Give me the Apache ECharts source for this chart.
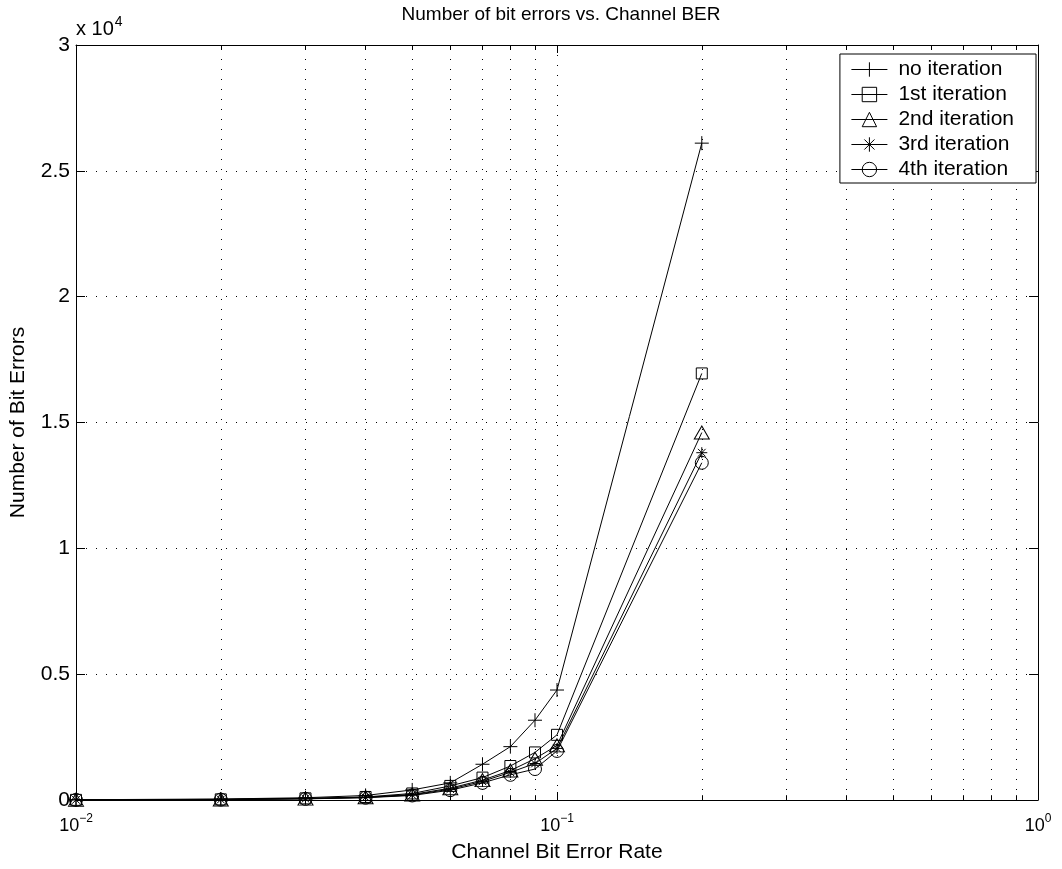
<!DOCTYPE html>
<html>
<head>
<meta charset="utf-8">
<title>Number of bit errors vs. Channel BER</title>
<script src="https://cdn.jsdelivr.net/npm/echarts@6/dist/echarts.min.js"></script>
<style>
  html, body { margin: 0; padding: 0; background: #fff; }
  #chart { width: 1062px; height: 869px; }
</style>
</head>
<body>
<div id="chart"></div>
<script>
// Channel bit error rates that were simulated
const channelBER = [0.01, 0.02, 0.03, 0.04, 0.05, 0.06, 0.07, 0.08, 0.09, 0.1, 0.2];

// Number of bit errors after decoding, one array per iteration count
const noIteration  = [10, 40, 90, 180, 400, 680, 1420, 2120, 3170, 4370, 26100];
const iteration1st = [5, 25, 65, 120, 260, 560, 890, 1350, 1890, 2590, 16950];
const iteration2nd = [5, 20, 55, 110, 220, 470, 790, 1170, 1640, 2170, 14600];
const iteration3rd = [5, 18, 50, 100, 200, 430, 740, 1100, 1450, 2050, 13800];
const iteration4th = [5, 15, 45, 90, 180, 390, 680, 1000, 1230, 1950, 13400];

const seriesNames = ['no iteration', '1st iteration', '2nd iteration', '3rd iteration', '4th iteration'];

// Minor decade positions for the log axis (grid lines and small ticks)
const minorX = [0.02, 0.03, 0.04, 0.05, 0.06, 0.07, 0.08, 0.09, 0.2, 0.3, 0.4, 0.5, 0.6, 0.7, 0.8, 0.9];

const X_MIN = 0.01, X_MAX = 1;
const Y_MIN = 0, Y_MAX = 30000, Y_STEP = 5000;

const FONT = '"Liberation Sans", Arial, Helvetica, sans-serif';
const DOTS = [1, 9];

const PLUS = 'path://M0,5L10,5M5,0L5,10';
const ASTERISK = 'path://M0,5L10,5M5,0L5,10M1.5,1.5L8.5,8.5M1.5,8.5L8.5,1.5';

function pairs(ys) { return channelBER.map((x, i) => [x, ys[i]]); }

const markerStyle = { color: 'rgba(0,0,0,0)', borderColor: '#000', borderWidth: 1 };

function lineSeries(name, ys, symbol, size) {
  return {
    name: name,
    type: 'line',
    data: pairs(ys),
    symbol: symbol,
    symbolSize: size,
    showAllSymbol: true,
    lineStyle: { color: '#000', width: 1 },
    itemStyle: markerStyle,
    emphasis: { disabled: true },
    silent: true,
    z: 5
  };
}

// Dotted grid lines at the minor decade positions, plus short inside ticks on the bottom and top edges
const minorGrid = minorX.map(x => ({ xAxis: x }));
const tickLen = 190;
const minorTicks = [];
minorX.forEach(x => {
  minorTicks.push([{ coord: [x, Y_MIN] }, { coord: [x, Y_MIN + tickLen] }]);
  minorTicks.push([{ coord: [x, Y_MAX] }, { coord: [x, Y_MAX - tickLen] }]);
});

const helperSeries = {
  name: '_grid',
  type: 'line',
  data: [],
  silent: true,
  z: 1,
  markLine: {
    silent: true,
    animation: false,
    symbol: ['none', 'none'],
    label: { show: false },
    emphasis: { disabled: true },
    lineStyle: { color: '#000', width: 1, type: DOTS },
    data: minorGrid
  }
};
const tickSeries = {
  name: '_ticks',
  type: 'line',
  data: [],
  silent: true,
  z: 2,
  markLine: {
    silent: true,
    animation: false,
    symbol: ['none', 'none'],
    label: { show: false },
    emphasis: { disabled: true },
    lineStyle: { color: '#000', width: 1, type: 'solid' },
    data: minorTicks
  }
};

function expLabel(value) {
  const e = Math.round(Math.log10(value));
  const s = e < 0 ? '\u2212' + (-e) : String(e);
  return '{b|10}{e|' + s + '}';
}

const chart = echarts.init(document.getElementById('chart'), null, { renderer: 'canvas' });

chart.setOption({
  animation: false,
  backgroundColor: '#fff',
  textStyle: { fontFamily: FONT, color: '#000' },
  title: [
    {
      text: 'Number of bit errors vs. Channel BER',
      left: 556,
      top: 0,
      textAlign: 'center',
      textStyle: { fontFamily: FONT, fontSize: 19, fontWeight: 'normal', color: '#000' }
    },
    {
      text: '{a|x 10}{s|4}',
      left: 71,
      top: 10,
      textStyle: {
        fontWeight: 'normal',
        rich: {
          a: { fontFamily: FONT, fontSize: 20, fontWeight: 'normal', color: '#000', verticalAlign: 'bottom' },
          s: { fontFamily: FONT, fontSize: 14, fontWeight: 'normal', color: '#000', verticalAlign: 'bottom', padding: [0, 0, 10, 1] }
        }
      }
    }
  ],
  grid: { left: 75, right: 24, top: 45, bottom: 69, containLabel: false },
  legend: {
    data: seriesNames,
    orient: 'vertical',
    right: 26,
    top: 54,
    itemWidth: 36,
    itemHeight: 18,
    itemGap: 4,
    padding: [5, 22, 3, 11],
    backgroundColor: '#fff',
    borderColor: '#000',
    borderWidth: 1,
    borderRadius: 0,
    selectedMode: false,
    z: 10,
    lineStyle: { width: 1, color: '#000' },
    itemStyle: { borderWidth: 1, borderColor: '#000', color: 'rgba(0,0,0,0)' },
    textStyle: { fontFamily: FONT, fontSize: 21, color: '#000', padding: [0, 0, 0, 6] }
  },
  xAxis: [
    {
      type: 'log',
      logBase: 10,
      min: X_MIN,
      max: X_MAX,
      position: 'bottom',
      name: 'Channel Bit Error Rate',
      nameLocation: 'middle',
      nameGap: 42,
      nameTextStyle: { fontFamily: FONT, fontSize: 21, color: '#000' },
      axisLine: { show: true, onZero: false, lineStyle: { color: '#000', width: 1 } },
      axisTick: { show: true, inside: true, length: 8, lineStyle: { color: '#000' } },
      axisLabel: {
        show: true,
        margin: 13,
        formatter: expLabel,
        rich: {
          b: { fontFamily: FONT, fontSize: 18, color: '#000', verticalAlign: 'bottom' },
          e: { fontFamily: FONT, fontSize: 12, color: '#000', verticalAlign: 'bottom', padding: [0, 0, 10, 0] }
        }
      },
      splitLine: { show: true, lineStyle: { color: '#000', width: 1, type: DOTS } },
      minorTick: { show: false },
      minorSplitLine: { show: false }
    },
    {
      type: 'log',
      logBase: 10,
      min: X_MIN,
      max: X_MAX,
      position: 'top',
      axisLine: { show: true, onZero: false, lineStyle: { color: '#000', width: 1 } },
      axisTick: { show: true, inside: true, length: 8, lineStyle: { color: '#000' } },
      axisLabel: { show: false },
      splitLine: { show: false }
    }
  ],
  yAxis: [
    {
      type: 'value',
      min: Y_MIN,
      max: Y_MAX,
      interval: Y_STEP,
      position: 'left',
      name: 'Number of Bit Errors',
      nameLocation: 'middle',
      nameGap: 47,
      nameTextStyle: { fontFamily: FONT, fontSize: 21, color: '#000' },
      axisLine: { show: true, onZero: false, lineStyle: { color: '#000', width: 1 } },
      axisTick: { show: true, inside: true, length: 9, lineStyle: { color: '#000' } },
      axisLabel: {
        show: true,
        margin: 6,
        fontFamily: FONT,
        fontSize: 21,
        color: '#000',
        formatter: v => String(v / 10000)
      },
      splitLine: { show: true, lineStyle: { color: '#000', width: 1, type: DOTS } }
    },
    {
      type: 'value',
      min: Y_MIN,
      max: Y_MAX,
      interval: Y_STEP,
      position: 'right',
      axisLine: { show: true, onZero: false, lineStyle: { color: '#000', width: 1 } },
      axisTick: { show: true, inside: true, length: 9, lineStyle: { color: '#000' } },
      axisLabel: { show: false },
      splitLine: { show: false }
    }
  ],
  series: [
    helperSeries,
    tickSeries,
    lineSeries(seriesNames[0], noIteration, PLUS, 14),
    lineSeries(seriesNames[1], iteration1st, 'rect', 11),
    lineSeries(seriesNames[2], iteration2nd, 'triangle', [15, 13]),
    lineSeries(seriesNames[3], iteration3rd, ASTERISK, 11),
    lineSeries(seriesNames[4], iteration4th, 'circle', 13)
  ]
});
</script>
</body>
</html>
